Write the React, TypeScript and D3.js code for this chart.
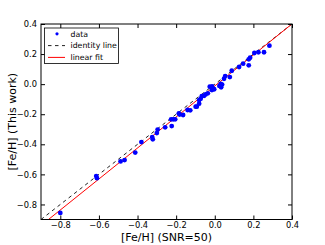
import React, { useEffect, useRef } from "react";
import * as d3 from "d3";

// [Fe/H] at SNR=50 (x) vs [Fe/H] from this work (y)
const snr50 = [
  -0.8, -0.61, -0.614, -0.488, -0.467, -0.412, -0.38, -0.324, -0.321, -0.3,
  -0.296, -0.257, -0.223, -0.226, -0.215, -0.205, -0.186, -0.182, -0.164, -0.141,
  -0.127, -0.093, -0.099, -0.081, -0.081, -0.073, -0.067, -0.055, -0.048, -0.036,
  -0.026, -0.014, -0.015, -0.003, 0.024, 0.033, 0.031, 0.038, 0.048, 0.054,
  0.078, 0.088, 0.126, 0.147, 0.176, 0.176, 0.183, 0.205, 0.226, 0.255, 0.283,
];
const thisWork = [
  -0.856, -0.625, -0.611, -0.514, -0.505, -0.455, -0.385, -0.352, -0.367, -0.325,
  -0.302, -0.287, -0.279, -0.234, -0.234, -0.234, -0.194, -0.202, -0.205, -0.172,
  -0.174, -0.15, -0.15, -0.13, -0.106, -0.097, -0.079, -0.077, -0.068, -0.061,
  -0.017, -0.015, -0.039, -0.034, -0.012, -0.021, 0.001, -0.003, 0.036, 0.054,
  0.047, 0.089, 0.114, 0.136, 0.125, 0.165, 0.176, 0.207, 0.212, 0.212, 0.256,
];
const fitSlope = 1.031;
const fitIntercept = -0.012;
const ticks = [-0.8, -0.6, -0.4, -0.2, 0.0, 0.2, 0.4];
const legendLabels = ["data", "identity line", "linear fit"];

const W = 325;
const H = 245;
const margin = { top: 24, right: 33, bottom: 25.5, left: 41 };
const font = "DejaVu Sans, sans-serif";

export default function App() {
  const ref = useRef<SVGSVGElement>(null);

  useEffect(() => {
    const svg = d3.select(ref.current);
    svg.selectAll("*").remove();

    const iW = W - margin.left - margin.right;
    const iH = H - margin.top - margin.bottom;
    const x = d3.scaleLinear().domain([-0.9, 0.4]).range([0, iW]);
    const y = d3.scaleLinear().domain([-0.9, 0.4]).range([iH, 0]);
    const fmt = (d: number) => d3.format(".1f")(d).replace("-", "\u2212");

    const g = svg.append("g").attr("transform", `translate(${margin.left},${margin.top})`);

    g.append("clipPath").attr("id", "clip")
      .append("rect").attr("width", iW).attr("height", iH);

    const plot = g.append("g").attr("clip-path", "url(#clip)");

    // identity line
    plot.append("line")
      .attr("x1", x(-0.9)).attr("y1", y(-0.9))
      .attr("x2", x(0.4)).attr("y2", y(0.4))
      .attr("stroke", "#222").attr("stroke-width", 1)
      .attr("stroke-dasharray", "3.5,3.5");

    // linear fit
    plot.append("line")
      .attr("x1", x(-0.95)).attr("y1", y(fitSlope * -0.95 + fitIntercept))
      .attr("x2", x(0.45)).attr("y2", y(fitSlope * 0.45 + fitIntercept))
      .attr("stroke", "#ff0000").attr("stroke-width", 1);

    plot.selectAll("circle")
      .data(snr50.map((v, i) => [v, thisWork[i]]))
      .join("circle")
      .attr("cx", d => x(d[0]))
      .attr("cy", d => y(d[1]))
      .attr("r", 2.4)
      .attr("fill", "#0000ff");

    // axes, ticks inward on all four sides
    const axisStyle = (sel: any) => {
      sel.select(".domain").remove();
      sel.selectAll("line").attr("stroke", "#000");
      sel.selectAll("text").attr("font-family", font).attr("font-size", 8.3).attr("fill", "#000");
    };
    g.append("g").attr("transform", `translate(0,${iH})`)
      .call(d3.axisBottom(x).tickValues(ticks).tickSizeInner(-4).tickPadding(2.5).tickFormat(fmt as any))
      .call(axisStyle);
    g.append("g")
      .call(d3.axisTop(x).tickValues(ticks).tickSizeInner(-4).tickFormat(() => ""))
      .call(axisStyle);
    g.append("g")
      .call(d3.axisLeft(y).tickValues(ticks).tickSizeInner(-4).tickPadding(4).tickFormat(fmt as any))
      .call(axisStyle);
    g.append("g").attr("transform", `translate(${iW},0)`)
      .call(d3.axisRight(y).tickValues(ticks).tickSizeInner(-4).tickFormat(() => ""))
      .call(axisStyle);

    g.append("rect")
      .attr("width", iW).attr("height", iH)
      .attr("fill", "none").attr("stroke", "#000").attr("stroke-width", 1);

    // legend
    const lg = g.append("g").attr("transform", "translate(3.5,4)");
    lg.append("rect")
      .attr("width", 74).attr("height", 35.5)
      .attr("fill", "#fff").attr("stroke", "#000").attr("stroke-width", 0.8);
    legendLabels.forEach((lab, i) => {
      const cy = 5.8 + i * 11.8;
      if (i === 0) {
        lg.append("circle").attr("cx", 12.5).attr("cy", cy).attr("r", 1.6).attr("fill", "#0000ff");
      } else {
        lg.append("line")
          .attr("x1", 3.5).attr("x2", 20.5).attr("y1", cy).attr("y2", cy)
          .attr("stroke", i === 1 ? "#222" : "#ff0000").attr("stroke-width", 1)
          .attr("stroke-dasharray", i === 1 ? "3.5,3.5" : null);
      }
      lg.append("text")
        .attr("x", 26).attr("y", cy).attr("dy", "0.35em")
        .attr("font-family", font).attr("font-size", 7.8)
        .text(lab);
    });

    // axis labels
    svg.append("text")
      .attr("x", margin.left + iW / 2).attr("y", 240.5)
      .attr("text-anchor", "middle")
      .attr("font-family", font).attr("font-size", 11)
      .text("[Fe/H] (SNR=50)");
    svg.append("text")
      .attr("transform", `translate(16,${margin.top + iH / 2}) rotate(-90)`)
      .attr("text-anchor", "middle")
      .attr("font-family", font).attr("font-size", 11)
      .text("[Fe/H] (This work)");
  }, []);

  return (
    <svg
      ref={ref}
      width={W}
      height={H}
      style={{ position: "absolute", left: 0, top: 0, background: "#fff" }}
    />
  );
}
